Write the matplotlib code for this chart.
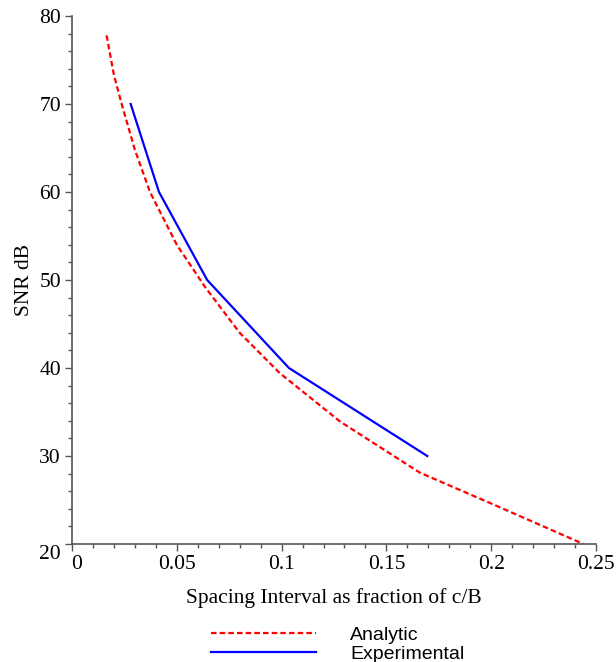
import matplotlib
matplotlib.use("Agg")
import matplotlib.pyplot as plt
import matplotlib.transforms as mtransforms
from matplotlib.ticker import MultipleLocator

# curva analitica
x_analitico = [0.0165, 0.0200, 0.0237, 0.0300, 0.0372, 0.0500, 0.0635,
               0.0800, 0.0992, 0.1280, 0.1660, 0.2000, 0.2440]
snr_analitico = [77.8, 73.3, 70.0, 64.8, 60.0, 54.0, 49.2,
                 44.0, 39.4, 33.9, 28.1, 24.6, 20.0]

# pontos experimentais
x_experimental = [0.028, 0.0415, 0.0645, 0.1035, 0.1695]
snr_experimental = [70, 60, 50, 40, 30]

x_ticks = [0, 0.05, 0.1, 0.15, 0.2, 0.25]
x_rotulos = ["0", "0.05", "0.1", "0.15", "0.2", "0.25"]
y_ticks = [20, 30, 40, 50, 60, 70, 80]

serif = "Liberation Serif"
cinza = "#555555"

fig = plt.figure(figsize=(6.16, 6.62), dpi=100)
ax = fig.add_axes([72 / 616, 1 - 544 / 662, 524 / 616, 528 / 662])

ax.plot(x_analitico, snr_analitico, color="#ff0000", lw=1.6,
        linestyle=(0, (2.5, 1.4)), label="Analytic")
ax.plot(x_experimental, snr_experimental, color="#0000ff", lw=1.6,
        label="Experimental")

ax.set_xlim(0, 0.25)
ax.set_ylim(20, 80)
ax.set_xticks(x_ticks)
ax.set_xticklabels(x_rotulos)
ax.set_yticks(y_ticks)
ax.xaxis.set_minor_locator(MultipleLocator(0.01))
ax.yaxis.set_minor_locator(MultipleLocator(2))

for lado in ["top", "right"]:
    ax.spines[lado].set_visible(False)
for lado in ["left", "bottom"]:
    ax.spines[lado].set_color(cinza)
    ax.spines[lado].set_linewidth(1.2)

ax.tick_params(which="major", direction="out", length=5, width=1, color=cinza,
               labelsize=15.5, pad=3)
ax.tick_params(which="minor", direction="out", length=3, width=1, color=cinza)
for t in ax.get_xticklabels() + ax.get_yticklabels():
    t.set_fontfamily(serif)

# deslocamento dos rotulos "0" e "20" como no original
fig.canvas.draw()
ax.get_xticklabels()[0].set_transform(
    ax.get_xticklabels()[0].get_transform()
    + mtransforms.ScaledTranslation(5 / 100, 0, fig.dpi_scale_trans))
ax.get_yticklabels()[0].set_transform(
    ax.get_yticklabels()[0].get_transform()
    + mtransforms.ScaledTranslation(0, -8 / 100, fig.dpi_scale_trans))

ax.set_xlabel("Spacing Interval as fraction of c/B", fontfamily=serif,
              fontsize=15.5, labelpad=10)
ax.set_ylabel("SNR dB", fontfamily=serif, fontsize=15.5, labelpad=4)

fig.legend(loc="upper left", bbox_to_anchor=(211 / 616, 1 - 626 / 662),
           frameon=False, borderpad=0, borderaxespad=0, handlelength=5.4,
           handletextpad=1.75, labelspacing=0.1,
           prop={"family": "Liberation Sans", "size": 14})

fig.savefig("out.png", dpi=100)
